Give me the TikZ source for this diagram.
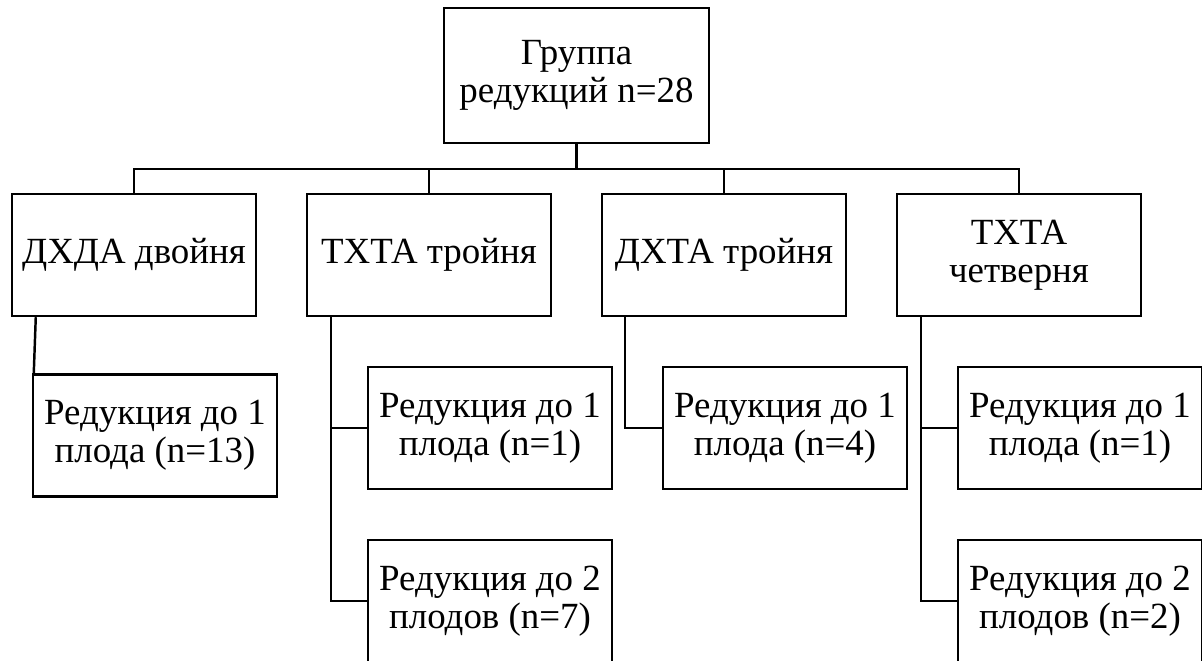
\documentclass[tikz,border=0pt]{standalone}
\usepackage{fontspec}
\setmainfont{Liberation Serif}
\usepackage{tikz}
\usetikzlibrary{positioning,calc}
\tikzset{
  % boxes
  bx/.style={draw=black,line width=1.4pt,fill=white,rectangle,inner sep=0pt,
             align=center,font=\fontsize{21}{21.5}\selectfont},
  lvl/.style={bx,minimum width=244*0.02cm,minimum height=122*0.02cm},
  top/.style={bx,minimum width=265*0.02cm,minimum height=135*0.02cm},
  % lines
  ln/.style={draw=black,line width=1.4pt},
}
\begin{document}
\begin{tikzpicture}[x=0.02cm,y=-0.02cm]
\useasboundingbox (0,0) rectangle (1202,661);
  \node[top] (grp) at (576.5,75.5) {Группа\\редукций n=28};
  \node[lvl] (dxda) at (134,255) {ДХДА двойня};
  \node[lvl] (txta) at (429,255) {ТХТА тройня};
  \node[lvl] (dxta) at (724,255) {ДХТА тройня};
  \node[lvl] (txtq) at (1019,255) {ТХТА\\четверня};
  \node[lvl] (dxda1) at (155,435.5) {Редукция до 1\\плода (n=13)};
  \node[lvl] (txta1) at (490,428) {Редукция до 1\\плода (n=1)};
  \node[lvl] (txta2) at (490,601) {Редукция до 2\\плодов (n=7)};
  \node[lvl] (dxta1) at (785,428) {Редукция до 1\\плода (n=4)};
  \node[lvl] (txtq1) at (1080,428) {Редукция до 1\\плода (n=1)};
  \node[lvl] (txtq2) at (1080,601) {Редукция до 2\\плодов (n=2)};
  % bus
  \coordinate (bus) at (576.5,169);
  \draw[ln] (grp.south) -- (bus);
  \draw[ln] (dxda.north) |- (bus) -| (txtq.north);
  \draw[ln] (txta.north) -- (txta.north |- bus);
  \draw[ln] (dxta.north) -- (dxta.north |- bus);
  % children
  \draw[ln] ($(dxda.south west)+(25,0)$) -- ($(dxda1.north west)+(2,0)$);
  \coordinate (ta) at ($(txta.south west)+(25,0)$);
  \draw[ln] (ta) |- (txta1.west);
  \draw[ln] (ta) |- (txta2.west);
  \coordinate (da) at ($(dxta.south west)+(24,0)$);
  \draw[ln] (da) |- (dxta1.west);
  \coordinate (qa) at ($(txtq.south west)+(25,0)$);
  \draw[ln] (qa) |- (txtq1.west);
  \draw[ln] (qa) |- (txtq2.west);
\end{tikzpicture}
\end{document}
